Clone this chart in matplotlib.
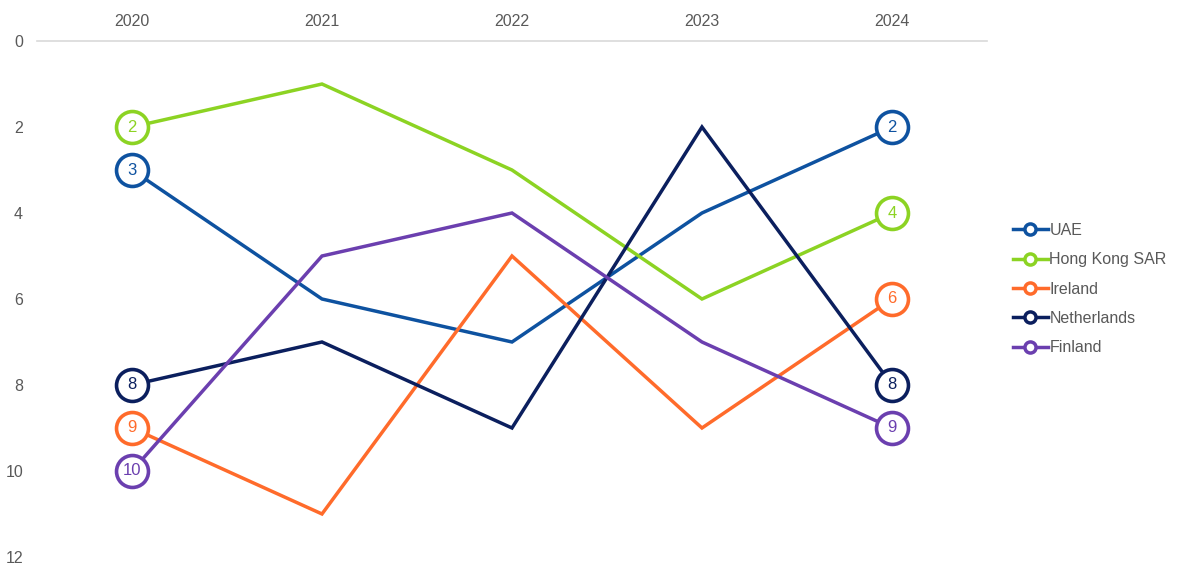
import matplotlib
matplotlib.use("Agg")
import matplotlib.pyplot as plt

plt.rcParams['font.family'] = ['Liberation Sans', 'DejaVu Sans']

years = ["2020", "2021", "2022", "2023", "2024"]
uae = [3, 6, 7, 4, 2]
hong_kong = [2, 1, 3, 6, 4]
ireland = [9, 11, 5, 9, 6]
netherlands = [8, 7, 9, 2, 8]
finland = [10, 5, 4, 7, 9]

series = [
    ("UAE", uae, "#0E52A0"),
    ("Hong Kong SAR", hong_kong, "#8CD323"),
    ("Ireland", ireland, "#FF6B2B"),
    ("Netherlands", netherlands, "#0B1F5E"),
    ("Finland", finland, "#6B3FAF"),
]

fig = plt.figure(figsize=(11.82, 5.65), dpi=100)
ax = fig.add_axes([0.0313, 0.0142, 0.8037, 0.9132])
x = list(range(len(years)))

for name, vals, col in series:
    ax.plot(x, vals, color=col, lw=2.5, zorder=2, solid_joinstyle='miter')
    # legend proxy
    ax.plot([], [], color=col, lw=2.5, marker='o', ms=8, mfc='white',
            mec=col, mew=2.5, label=name)
    for i in (0, len(vals) - 1):
        ax.plot(x[i], vals[i], marker='o', ms=23, mfc='white', mec=col,
                mew=2.6, zorder=3)
        ax.text(x[i], vals[i], str(vals[i]), color=col, ha='center',
                va='center', fontsize=12, zorder=4)

ax.set_xlim(-0.5, len(years) - 0.5)
ax.set_ylim(12, 0)
ax.set_yticks(range(0, 13, 2))
ax.set_xticks(x)
ax.set_xticklabels(years)
ax.xaxis.tick_top()
ax.tick_params(axis='both', length=0, labelsize=11.5, labelcolor='#595959')
ax.tick_params(axis='x', pad=9)
ax.tick_params(axis='y', pad=10)
for s in ('left', 'right', 'bottom'):
    ax.spines[s].set_visible(False)
ax.spines['top'].set_color('#D9D9D9')
ax.spines['top'].set_linewidth(1.2)

leg = ax.legend(loc='center left', bbox_to_anchor=(1.027, 0.519), frameon=False,
                fontsize=11.5, handlelength=2.2, handletextpad=0.1,
                labelspacing=0.9, borderpad=0, borderaxespad=0,
                labelcolor='#595959')

fig.savefig("out.png", dpi=100)
